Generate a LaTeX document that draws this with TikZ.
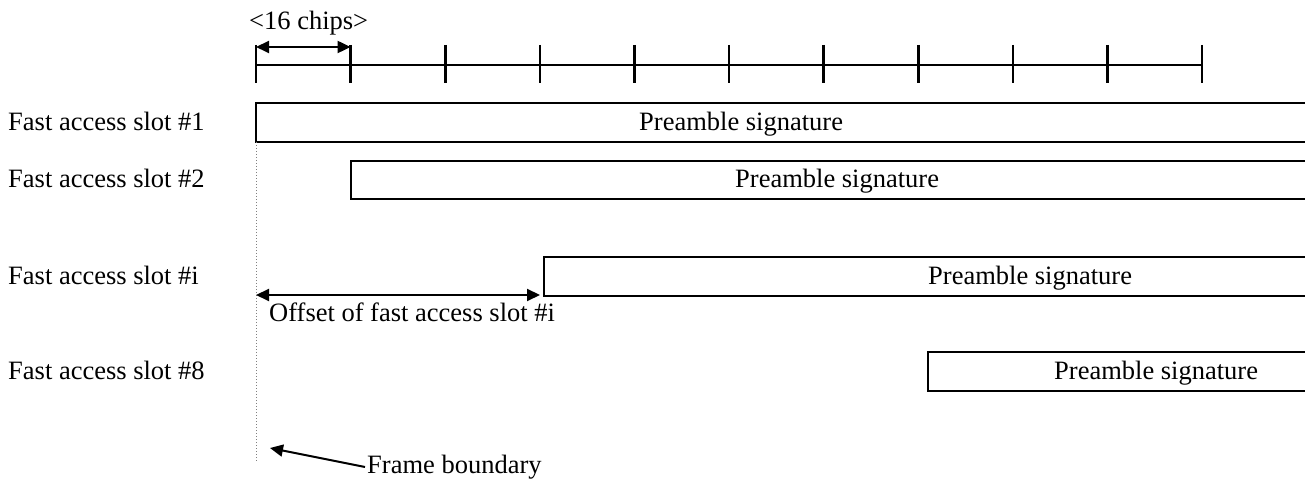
\documentclass[tikz,border=0pt]{standalone}
\usepackage{fontspec}
\setmainfont{Liberation Serif}
\usetikzlibrary{arrows.meta}

\tikzset{
    txt/.style={font=\fontsize{26.5}{30}\selectfont, inner sep=0pt, anchor=base west},
    slotbox/.style={line width=2pt},
    tick/.style={line width=2.6pt},
    dimarrow/.style={line width=2pt, {Triangle[length=13pt,width=12pt]}-{Triangle[length=13pt,width=12pt]}},
    ptr/.style={line width=2pt, -{Triangle[length=13pt,width=12pt]}},
}

\begin{document}
\begin{tikzpicture}[x=1pt,y=1pt]
    \useasboundingbox (0,0) rectangle (1305,479);
    \coordinate (AxisMin) at (256,414);
    \coordinate (AxisMax) at (1202,414);
    \draw [tick] (AxisMin) -- (AxisMax);% chip axis
    \foreach \k in {0,1,...,10}{% one tick per 16 chips
        \draw [tick] (256+94.6*\k,434) -- (256+94.6*\k,396);
    }
    \coordinate (ChipL) at (256,432);
    \coordinate (ChipR) at (350.6,432);
    \draw [dimarrow] (ChipL) -- (ChipR);
    \node [txt] (chips) at (249,449) {<16 chips>};

    % slot boxes, open towards the right edge
    \foreach \n/\xl/\yt/\yb/\xs/\lab in {A/256/376/337/639/1, B/350.6/318/280/735/2, I/544/222/183/928/i, H/928/127/88/1054/8}{%
        \coordinate (box\n) at (\xl,\yb);
        \draw [slotbox] (1305,\yt) -- (\xl,\yt) -- (\xl,\yb) -- (1305,\yb);
        \node [txt] (sig\n) at (\xs,\yb+11) {Preamble signature};
        \node [txt] (slot\n) at (8,\yb+11) {Fast access slot \#\lab};
    }

    % frame boundary
    \coordinate (FrameTop) at (256,337);
    \coordinate (FrameBot) at (256,17);
    \draw [gray, line width=1pt, dotted] (FrameTop) -- (FrameBot);
    \coordinate (OffL) at (256,184);
    \draw [dimarrow] (OffL) -- ([xshift=-4pt,yshift=1pt]boxI);
    \node [txt] (offset) at (269,157) {Offset of fast access slot \#i};
    \node [txt] (frame) at (367,6) {Frame boundary};
    \coordinate (FrameTip) at (270,31);
    \draw [ptr] (frame.base west) ++(-2,6) -- (FrameTip);
\end{tikzpicture}
\end{document}
